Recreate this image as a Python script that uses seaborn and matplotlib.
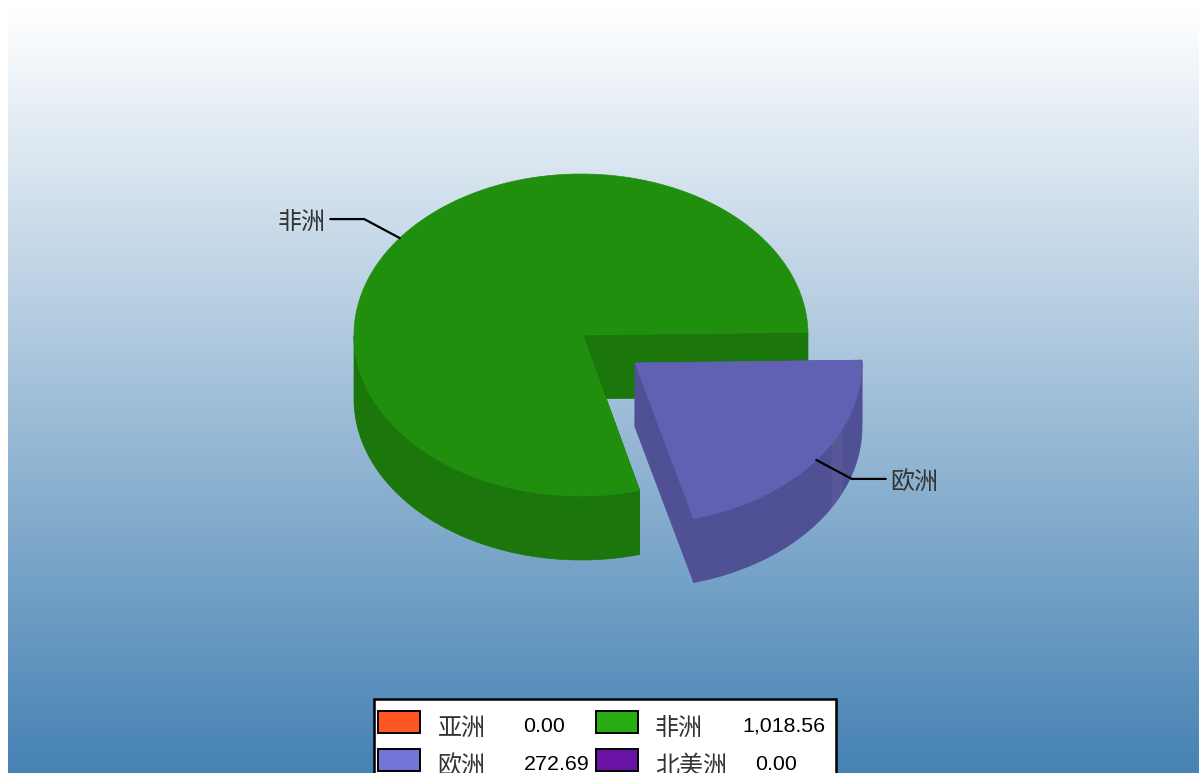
import numpy as np
import pandas as pd
import seaborn as sns
import matplotlib.pyplot as plt
from matplotlib.colors import LinearSegmentedColormap
from matplotlib.patches import Rectangle

# datos del grafico
continentes = ["亚洲", "非洲", "欧洲", "北美洲"]
valores = [0.00, 1018.56, 272.69, 0.00]
etiquetas_valor = ["0.00", "1,018.56", "272.69", "0.00"]
colores = ["#FF5722", "#27AC11", "#7575D8", "#6A14A6"]

sns.set_theme(style="white")
plt.rcParams['font.family'] = ['Noto Sans CJK SC', 'DejaVu Sans']

df = pd.DataFrame({"continente": continentes, "valor": valores, "texto": etiquetas_valor})
paleta = sns.color_palette(colores)

# geometria de la tarta, en pixeles de la imagen
cx, cy = 581, 335
rx, ry = 227, 161
alto = 64
inicio = -1.0
separado = {"欧洲": (54, 28)}
ajuste_vertice = {"非洲": 2}
brillo = {"欧洲": (24.0, 30.0)}   # banda clara en la pared
luz_tapa = 0.83
luz_lado = 0.685

fig = plt.figure(figsize=(11.99, 7.73), dpi=100, facecolor="white")
ax = fig.add_axes([0, 0, 1, 1])

# fondo degradado
degradado = LinearSegmentedColormap.from_list("fondo", ["#FFFFFF", "#4682B4"])
ax.imshow(np.linspace(0, 1, 256).reshape(-1, 1), cmap=degradado, aspect="auto",
          extent=[8, 1199, 773, 8], zorder=0)
ax.set_xlim(0, 1199)
ax.set_ylim(773, 0)
ax.axis("off")


def sombra(color, f):
    return tuple(c * f for c in color)


def punto(t, x0, y0):
    return x0 + rx * np.cos(t), y0 + ry * np.sin(t)


def dibujar_porcion(t1, t2, x0, y0, color, z, vx=0):
    ts = np.linspace(t1, t2, 720)
    xs, ys = punto(ts, x0, y0)
    lado = sombra(color, luz_lado)
    tapa = sombra(color, luz_tapa)
    # caras de corte
    for t in (t1, t2):
        xb, yb = punto(t, x0, y0)
        ax.fill([x0 + vx, xb, xb, x0 + vx], [y0, yb, yb + alto, y0 + alto], color=lado, lw=0.5, zorder=z)
    # pared exterior, solo la parte que mira al frente
    vis = np.sin(ts) >= 0
    xv, yv = xs[vis], ys[vis]
    ax.fill(np.r_[xv, xv[::-1]], np.r_[yv, yv[::-1] + alto], color=lado, lw=0.5, zorder=z + 0.1)
    # tapa
    ax.fill(np.r_[x0 + vx, xs], np.r_[y0, ys], color=tapa, lw=0.5, zorder=z + 0.2)


total = df["valor"].sum()
angulo = np.radians(inicio)
guias = []
for i, fila in df.iterrows():
    paso = 2 * np.pi * fila["valor"] / total
    if paso == 0:
        continue
    nombre = fila["continente"]
    dx, dy = separado.get(nombre, (0, 0))
    t1, t2 = angulo - paso, angulo
    dibujar_porcion(t1, t2, cx + dx, cy + dy, paleta[i], 2 + i, ajuste_vertice.get(nombre, 0))
    if nombre in brillo:
        tb = np.radians(np.linspace(*brillo[nombre], 30))
        xb, yb = punto(tb, cx + dx, cy + dy)
        ax.fill(np.r_[xb, xb[::-1]], np.r_[yb, yb[::-1] + alto], color="white", alpha=0.05, lw=0, zorder=2 + i + 0.15)
    guias.append((nombre, (t1 + t2) / 2, cx + dx, cy + dy))
    angulo -= paso

# lineas guia y etiquetas
for nombre, t, x0, y0 in guias:
    xa, ya = punto(t, x0, y0)
    s = np.sign(np.cos(t))
    xc, yc = xa + s * 35.5, ya + np.sign(np.sin(t)) * 19
    xf = xc + s * 34
    ax.plot([xa, xc, xf], [ya, yc, yc], color="black", lw=1.6, zorder=10)
    ax.text(xf + s * 4.5, yc + 3, nombre, ha="left" if s > 0 else "right", va="center",
            fontsize=17.3, color="#333333", zorder=10)

# leyenda, cortada por el borde inferior como en el original
ax.add_patch(Rectangle((374, 699), 461.5, 90, facecolor="white", edgecolor="black", lw=1.8, zorder=11))
col_caja = [378, 596, 378, 596]
fila_caja = [711, 711, 749, 749]
col_nombre = [437.5, 655, 437.5, 655]
col_valor = [523.5, 742, 523.5, 755]
for i, fila in df.iterrows():
    ax.add_patch(Rectangle((col_caja[i], fila_caja[i]), 42, 22, facecolor=paleta[i],
                           edgecolor="black", lw=1.4, zorder=12))
    ax.text(col_nombre[i], fila_caja[i] + 17, fila["continente"], ha="left", va="center",
            fontsize=17.3, color="#333333", zorder=12, clip_on=True)
    ax.text(col_valor[i], fila_caja[i] + 15, fila["texto"], ha="left", va="center",
            fontsize=15.4, family="Liberation Sans", color="black", zorder=12, clip_on=True)

sns.despine(ax=ax, left=True, bottom=True)
fig.savefig("out.png", dpi=100)
